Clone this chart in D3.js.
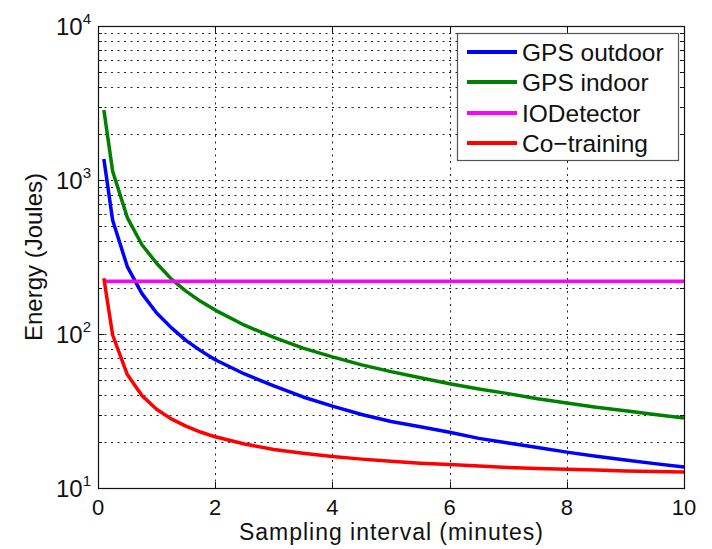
<!DOCTYPE html>
<html>
<head>
<meta charset="utf-8">
<script src="https://cdn.jsdelivr.net/npm/d3@7"></script>
<style>
  body { margin: 0; background: #fff; }
  text { font-family: "Liberation Sans", Arial, sans-serif; fill: #111; }
</style>
</head>
<body>
<svg id="chart" width="712" height="549"></svg>
<script>
// sampling intervals (minutes)
const intervals = [0.1, 0.25, 0.5, 0.75, 1, 1.25, 1.5, 1.75, 2, 2.5, 3, 3.5, 4,
  4.5, 5, 5.5, 6, 6.5, 7, 7.5, 8, 8.5, 9, 9.5, 10];

// energy (Joules)
const gpsOutdoor = [1370, 548, 274, 183, 137, 110, 91, 78, 68, 55, 46, 39, 34,
  30, 27, 25, 23, 21, 19.6, 18.3, 17.1, 16.1, 15.2, 14.4, 13.7];
const gpsIndoor = [2850, 1140, 570, 380, 288, 228, 190, 163, 143, 114, 95, 81, 71,
  63, 57, 52, 47.5, 44, 41, 38, 35.6, 33.5, 31.7, 30, 28.5];
const ioDetector = [220, 220, 220, 220, 220, 220, 220, 220, 220, 220, 220, 220, 220,
  220, 220, 220, 220, 220, 220, 220, 220, 220, 220, 220, 220];
const coTraining = [230, 98.5, 54.5, 39.8, 32.5, 28.1, 25.2, 23.1, 21.5, 19.3, 17.8, 16.8, 16,
  15.4, 14.9, 14.5, 14.2, 13.9, 13.6, 13.4, 13.25, 13.1, 12.9, 12.8, 12.7];

const seriesNames = ['GPS outdoor', 'GPS indoor', 'IODetector', 'Co\u2212training'];
const seriesColors = ['#0000ff', '#008000', '#ff00ff', '#ff0000'];
const seriesValues = [gpsOutdoor, gpsIndoor, ioDetector, coTraining];

const xTicks = [0, 2, 4, 6, 8, 10];
const yTicks = [10, 100, 1000, 10000];

const svg = d3.select('#chart');
const plotL = 98, plotR = 684, plotT = 26, plotB = 488;

const x = d3.scaleLinear().domain([0, 10]).range([plotL, plotR]);
const y = d3.scaleLog().domain([10, 10000]).range([plotB, plotT]);

// minor log values for grid
const yMinor = [];
[10, 100, 1000].forEach(d => {
  for (let k = 2; k <= 9; k++) yMinor.push(d * k);
});

// dotted grid
const grid = svg.append('g')
  .attr('stroke', '#222')
  .attr('stroke-width', 1)
  .attr('stroke-dasharray', '2,4.5');
grid.selectAll('.gy')
  .data(yMinor.concat([100, 1000]))
  .join('line')
  .attr('x1', plotL).attr('x2', plotR)
  .attr('y1', d => Math.round(y(d)) + 0.5)
  .attr('y2', d => Math.round(y(d)) + 0.5);
grid.selectAll('.gx')
  .data(xTicks.slice(1, -1))
  .join('line')
  .attr('y1', plotB).attr('y2', plotT)
  .attr('x1', d => Math.round(x(d)) + 0.5)
  .attr('x2', d => Math.round(x(d)) + 0.5);

// inward ticks on all four sides
const ticks = svg.append('g').attr('stroke', '#111').attr('stroke-width', 1);
ticks.selectAll('.tx')
  .data(xTicks)
  .join('path')
  .attr('d', d => {
    const px = Math.round(x(d)) + 0.5;
    return `M${px},${plotB}v-6M${px},${plotT}v6`;
  });
ticks.selectAll('.ty')
  .data(yTicks.concat(yMinor))
  .join('path')
  .attr('d', d => {
    const py = Math.round(y(d)) + 0.5;
    const len = yTicks.includes(d) ? 6 : 4;
    return `M${plotL},${py}h${len}M${plotR},${py}h${-len}`;
  });

// series lines
const line = d3.line()
  .x(d => x(d[0]))
  .y(d => y(d[1]));

seriesValues.forEach((vals, i) => {
  svg.append('path')
    .datum(intervals.map((t, j) => [t, vals[j]]))
    .attr('d', line)
    .attr('fill', 'none')
    .attr('stroke', seriesColors[i])
    .attr('stroke-width', 3.5)
    .attr('stroke-linejoin', 'round');
});

// box
svg.append('rect')
  .attr('x', plotL + 0.5).attr('y', plotT + 0.5)
  .attr('width', plotR - plotL).attr('height', plotB - plotT)
  .attr('fill', 'none')
  .attr('stroke', '#111')
  .attr('stroke-width', 1.2);

// x tick labels
svg.selectAll('.xl')
  .data(xTicks)
  .join('text')
  .attr('x', d => x(d))
  .attr('y', 515)
  .attr('text-anchor', 'middle')
  .attr('font-size', 22)
  .text(d => d);

// y tick labels 10^n
const yl = svg.selectAll('.yl')
  .data(yTicks)
  .join('text')
  .attr('x', 91)
  .attr('y', d => y(d) + 9)
  .attr('text-anchor', 'end')
  .attr('font-size', 24);
yl.append('tspan').text('10');
yl.append('tspan')
  .attr('dy', -11)
  .attr('font-size', 15)
  .text(d => Math.round(Math.log10(d)));

// axis titles
svg.append('text')
  .attr('x', 391).attr('y', 540)
  .attr('text-anchor', 'middle')
  .attr('font-size', 23)
  .attr('textLength', 304)
  .text('Sampling interval (minutes)');

svg.append('text')
  .attr('transform', 'translate(42,257) rotate(-90)')
  .attr('text-anchor', 'middle')
  .attr('font-size', 24)
  .text('Energy (Joules)');

// legend
const legend = svg.append('g');
legend.append('rect')
  .attr('x', 457.5).attr('y', 33.5)
  .attr('width', 221).attr('height', 127)
  .attr('fill', '#fff')
  .attr('stroke', '#555')
  .attr('stroke-width', 1.2);
const rowY = [52, 82, 113, 143];
seriesNames.forEach((name, i) => {
  legend.append('line')
    .attr('x1', 467).attr('x2', 517)
    .attr('y1', rowY[i]).attr('y2', rowY[i])
    .attr('stroke', seriesColors[i])
    .attr('stroke-width', 4);
  legend.append('text')
    .attr('x', 522).attr('y', rowY[i] + 8.5)
    .attr('font-size', 24.5)
    .text(name);
});
</script>
</body>
</html>
